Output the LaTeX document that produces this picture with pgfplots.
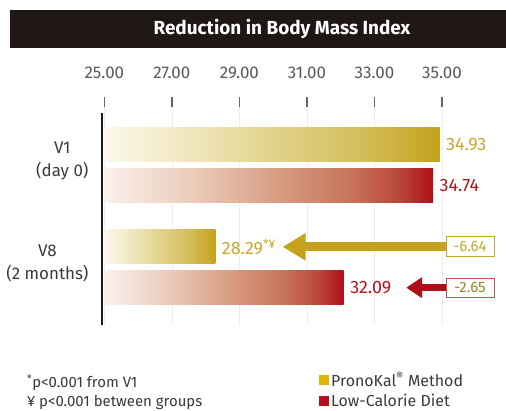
\documentclass[border=0pt]{standalone}
\usepackage{fontspec}
\setmainfont{Fira Sans}
\usepackage{pgfplots}
\pgfplotsset{compat=1.18}
\usetikzlibrary{arrows.meta}
\definecolor{bgold}{HTML}{C4A21C}
\definecolor{goldtext}{HTML}{C6A82C}
\definecolor{bred}{HTML}{AE0F19}
\definecolor{redtext}{HTML}{B0151E}
\definecolor{redbox}{HTML}{C0565C}
\definecolor{leggold}{HTML}{E2B400}
\definecolor{legred}{HTML}{B3101C}
\definecolor{titlebg}{HTML}{1E1715}
\definecolor{txt}{HTML}{3A3A3A}
\definecolor{ga}{HTML}{FBF8EC}
\definecolor{gb}{HTML}{EEE3B5}
\definecolor{gc}{HTML}{E2D38B}
\definecolor{gd}{HTML}{D5BF5E}
\definecolor{ge}{HTML}{C4A21C}
\definecolor{ra}{HTML}{FAF1EC}
\definecolor{rb}{HTML}{E9C6B4}
\definecolor{rc}{HTML}{D9A189}
\definecolor{rd}{HTML}{C77459}
\definecolor{re}{HTML}{B9453A}
\definecolor{rf}{HTML}{AE0F19}
\pgfdeclarehorizontalshading{goldbar}{100bp}{%
  color(0bp)=(ga); color(25bp)=(ga); color(40bp)=(gb); color(50bp)=(gc);
  color(62.5bp)=(gd); color(75bp)=(ge); color(100bp)=(ge)}
\pgfdeclarehorizontalshading{redbar}{100bp}{%
  color(0bp)=(ra); color(25bp)=(ra); color(40bp)=(rb); color(50bp)=(rc);
  color(62.5bp)=(rd); color(70bp)=(re); color(75bp)=(rf); color(100bp)=(rf)}
\pgfplotsset{
  goldstyle/.style={xbar, bar width=34bp, bar shift=0pt, draw=none, shading=goldbar,
    point meta=explicit symbolic, nodes near coords,
    nodes near coords style={anchor=west, text=goldtext, font=\fontsize{18}{20}\selectfont, xshift=3bp}, forget plot},
  redstyle/.style={xbar, bar width=34bp, bar shift=0pt, draw=none, shading=redbar,
    point meta=explicit symbolic, nodes near coords,
    nodes near coords style={anchor=west, text=redtext, font=\fontsize{18}{20}\selectfont, xshift=3bp}, forget plot},
}
\begin{document}
\begin{tikzpicture}[x=1bp,y=1bp]
\path[use as bounding box] (0,0) rectangle (506,410);
\fill[titlebg] (10,362) rectangle (506,400);
\node[text=white, font=\fontsize{19}{22}\selectfont\bfseries] at (282,381) {Reduction in Body Mass Index};
\begin{axis}[
  at={(102bp,303bp)}, anchor=north west,
  scale only axis, width=394bp, height=218bp,
  xmin=24.93, xmax=36.6, ymin=0.434, ymax=2.571,
  x coord trafo/.code={\pgfmathparse{#1-25}},
  x coord inv trafo/.code={\pgfmathparse{#1+25}},
  axis x line*=top, axis y line*=left,
  axis line style={draw=none},
  xtick={25,27,29,31,33,35},
  xticklabels={25.00,27.00,29.00,31.00,33.00,35.00},
  tick align=outside,
  major tick length=10bp,
  xtick style={draw=black!60, line width=1.4bp},
  ytick={1,2}, yticklabels={{V8\\(2 months)},{V1\\(day 0)}},
  ytick style={draw=none},
  yticklabel style={align=center, font=\fontsize{17}{23}\selectfont, text=txt, yshift=4bp},
  xticklabel style={font=\fontsize{17}{20}\selectfont, text=black!65, yshift=15bp},
  /pgf/number format/assume math mode=true,
  xmajorgrids, major grid style={black!7, line width=0.6bp},
  clip=false,
  legend style={at={(axis description cs:0.543,-0.195)}, anchor=north west, draw=none, fill=none,
    font=\fontsize{16}{18}\selectfont, text=txt, row sep=2.5bp, cells={anchor=west}},
  legend image code/.code={\fill[draw=none,#1] (0bp,-5bp) rectangle (10bp,5bp);},
]
% PronoKal Method
\addplot[goldstyle] coordinates {(34.93,2.2) [34.93]};
\addplot[goldstyle] coordinates {(28.29,1.2) [28.29\textsuperscript{*¥}]};
% Low-Calorie Diet
\addplot[redstyle] coordinates {(34.74,1.8) [34.74]};
\addplot[redstyle] coordinates {(32.09,0.8) [32.09]};
\draw[line width=2.2bp, black!90] (axis cs:24.93,0.434) -- (axis cs:24.93,2.512);
\draw[bgold, line width=9bp, -{Triangle[length=23bp,width=26bp]}] (axis cs:35.12,1.2) -- (axis cs:30.28,1.2);
\draw[bred, line width=7bp, -{Triangle[length=16bp,width=20bp]}] (axis cs:35.12,0.8) -- (axis cs:33.94,0.8);
\node[draw=goldtext, fill=white, line width=0.8bp, text=goldtext, minimum width=48bp, minimum height=20bp, inner sep=0pt, font=\fontsize{15}{18}\selectfont] at (axis cs:35.83,1.2) {-6.64};
\node[draw=redbox, fill=white, line width=0.8bp, text=goldtext!80!black, minimum width=48bp, minimum height=19bp, inner sep=0pt, font=\fontsize{15}{18}\selectfont] at (axis cs:35.83,0.8) {-2.65};
\addlegendimage{fill=leggold}\addlegendentry{PronoKal\textsuperscript{®} Method}
\addlegendimage{fill=legred}\addlegendentry{Low-Calorie Diet}
\end{axis}
\node[anchor=west, inner sep=1bp, font=\fontsize{15}{18}\selectfont, text=txt] at (26,27) {\textsuperscript{*}p<0.001 from V1};
\node[anchor=west, inner sep=1bp, font=\fontsize{15}{18}\selectfont, text=txt] at (26,8) {¥ p<0.001 between groups};
\end{tikzpicture}
\end{document}
